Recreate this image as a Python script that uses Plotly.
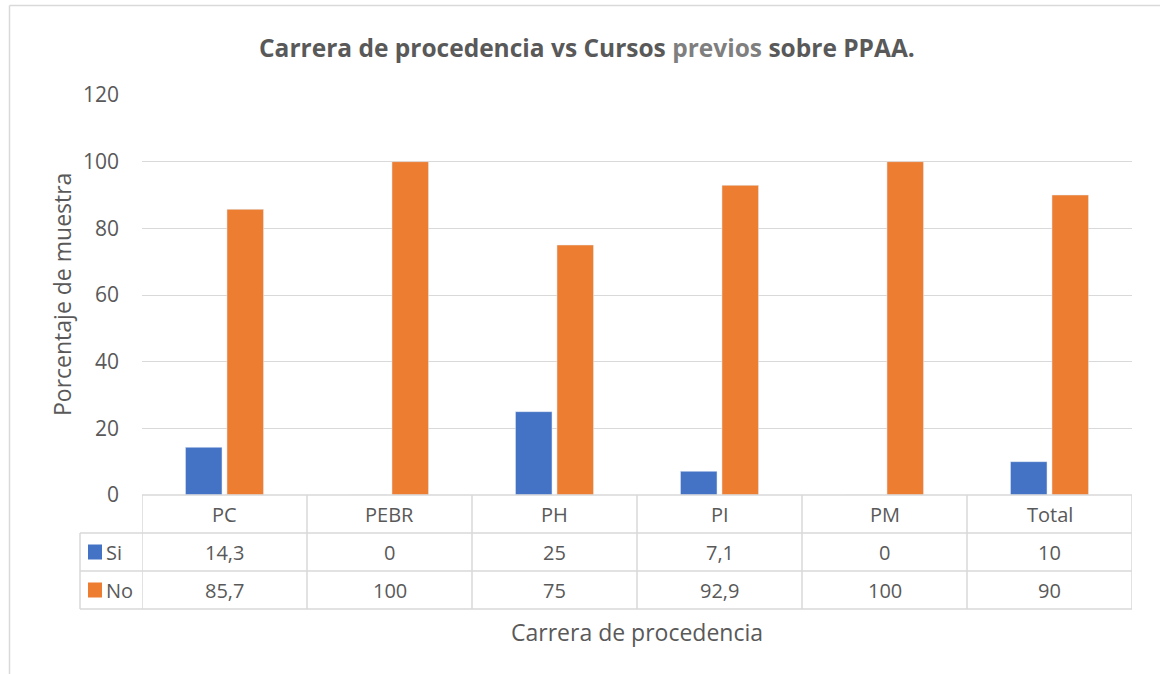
import plotly.graph_objects as go

categories = ["PC", "PEBR", "PH", "PI", "PM", "Total"]
si_values = [14.3, 0, 25, 7.1, 0, 10]
no_values = [85.7, 100, 75, 92.9, 100, 90]
si_labels = ["14,3", "0", "25", "7,1", "0", "10"]
no_labels = ["85,7", "100", "75", "92,9", "100", "90"]
series_names = ["Si", "No"]
colors = ["#4472C4", "#ED7D31"]

W, H = 1160, 674
OFF = 0
FONT = "Open Sans"
TXT = "#595959"
GRID = "#d9d9d9"

def px(x):
    return (x - OFF) / W

def py(y):
    return 1 - (y - OFF) / H

fig = go.Figure()
fig.add_trace(go.Bar(x=categories, y=si_values, name=series_names[0], marker_color=colors[0]))
fig.add_trace(go.Bar(x=categories, y=no_values, name=series_names[1], marker_color=colors[1]))

plot_top, plot_bot = 95, 495
row_h = 38
fig.update_layout(
    width=W, height=H,
    margin=dict(l=0, r=0, t=0, b=0, pad=0),
    paper_bgcolor="white", plot_bgcolor="white",
    showlegend=False,
    barmode="group", bargap=0.497, bargroupgap=0.12,
    font=dict(family=FONT, color=TXT, size=20),
    xaxis=dict(domain=[px(142), px(1132)], showticklabels=False, showgrid=False,
               zeroline=False, showline=False, range=[-0.5, 5.5], automargin=False),
    yaxis=dict(domain=[py(plot_bot), py(plot_top)], range=[0, 120], dtick=20,
               showgrid=True, gridcolor=GRID, gridwidth=1.3, zeroline=False,
               showline=False, ticks="", ticklabelstandoff=22, automargin=False,
               tickfont=dict(size=21, color=TXT)),
)

shapes = []
line = dict(color=GRID, width=1.5)
# outer border
shapes.append(dict(type="line", xref="paper", yref="paper", x0=px(9.5), x1=1.05, y0=py(5.5), y1=py(5.5), line=line))
shapes.append(dict(type="line", xref="paper", yref="paper", x0=px(9.5), x1=px(9.5), y0=py(5.5), y1=-0.05, line=line))
# table horizontal lines
t0 = plot_bot
shapes.append(dict(type="line", xref="x", yref="paper", x0=-0.5, x1=len(categories) - 0.5, y0=py(t0), y1=py(t0), line=line))
for k in range(1, 4):
    shapes.append(dict(type="line", xref="paper", yref="paper", x0=px(80), x1=px(1132),
                       y0=py(t0 + k * row_h), y1=py(t0 + k * row_h), line=line))
# table vertical lines
for i in range(len(categories) + 1):
    shapes.append(dict(type="line", xref="x", yref="paper", x0=i - 0.5, x1=i - 0.5,
                       y0=py(t0), y1=py(t0 + 3 * row_h), line=line))
shapes.append(dict(type="line", xref="paper", yref="paper", x0=px(80), x1=px(80),
                   y0=py(t0 + row_h), y1=py(t0 + 3 * row_h), line=line))
# legend keys
for r, c in enumerate(colors):
    yc = t0 + (r + 1.5) * row_h
    shapes.append(dict(type="rect", xref="paper", yref="paper", x0=px(88), x1=px(102),
                       y0=py(yc - 7.5), y1=py(yc + 7.5), fillcolor=c, line=dict(width=0)))
fig.update_layout(shapes=shapes)

ann = []
def text_at(x, xref, y, text, size, xanchor="center", **kw):
    ann.append(dict(x=x, xref=xref, y=y, yref="paper", text=text, showarrow=False,
                    xanchor=xanchor, yanchor="middle", font=dict(size=size, color=TXT), **kw))

for i, cat in enumerate(categories):
    text_at(i, "x", py(t0 + 0.5 * row_h), cat, 20)
    text_at(i, "x", py(t0 + 1.5 * row_h), si_labels[i], 20)
    text_at(i, "x", py(t0 + 2.5 * row_h), no_labels[i], 20)
for r, name in enumerate(series_names):
    text_at(px(104), "paper", py(t0 + (r + 1.5) * row_h), name, 20, xanchor="left")
# titles
text_at(px(587), "paper", py(47),
        "<b>Carrera de procedencia vs Cursos <span style='color:#7f7f7f'>previos</span> sobre PPAA.</b>", 24.5)
text_at(px(637), "paper", py(632), "Carrera de procedencia", 23)
text_at(px(62), "paper", py(295), "Porcentaje de muestra", 23, textangle=-90)
fig.update_layout(annotations=ann)

fig.write_html("out.html", config={"displayModeBar": False},
               post_script="document.body.style.margin='0px';")
